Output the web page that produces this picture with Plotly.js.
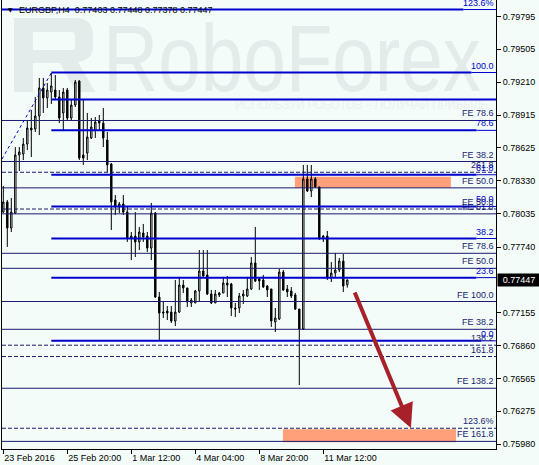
<!DOCTYPE html>
<html><head><meta charset="utf-8">
<script src="https://cdn.plot.ly/plotly-3.0.1.min.js"></script>
<style>
html,body{margin:0;padding:0;background:#F3FCF8;}
#wrap{position:relative;width:539px;height:465px;overflow:hidden;}
#wm{position:absolute;left:0;top:0;}
#chart{position:absolute;left:0;top:0;width:539px;height:465px;}
</style></head><body>
<div id="wrap">
<svg id="wm" width="539" height="465">
  <path d="M14,18 H76 Q93,18 93,36 V46 Q93,60 78,62 L95,92 H76 L60,63 H33 V92 H14 Z M33,32 H72 Q75,32 75,36 V46 Q75,50 72,50 H33 Z" fill="#E3EBEB" fill-rule="evenodd"/>
  <text x="103" y="91" font-family="Liberation Sans, Arial, sans-serif" font-size="94" fill="#E3EBEB" textLength="378" lengthAdjust="spacingAndGlyphs">RoboForex</text>
  <text x="235" y="109" font-family="Liberation Sans, Arial, sans-serif" font-size="12" fill="#EAF2F0" textLength="253" lengthAdjust="spacingAndGlyphs">ИСПОЛЬЗУЙ РОБОТОВ – ПОЛУЧАЙ ПРИБЫЛЬ</text>
</svg>
<div id="chart"></div>
</div>
<script>
// ---- data ----
const symbolTitle = "EURGBP,H4  0.77403 0.77448 0.77378 0.77447";
const timeLabels = ["23 Feb 2016","25 Feb 20:00","1 Mar 12:00","4 Mar 04:00","8 Mar 20:00","11 Mar 12:00"];
const timeLabelBars = [0,16,32,48,64,80];

const opens = [0.78052,0.78142,0.77910,0.78043,0.78561,0.78570,0.78659,0.78802,0.78793,0.78909,
 0.79159,0.79070,0.79123,0.79141,0.79079,0.78936,0.79141,0.78891,0.79007,0.79221,
 0.78561,0.78579,0.78713,0.78784,0.78864,0.78846,0.78695,0.78481,0.78160,0.78097,
 0.78124,0.78052,0.77820,0.77838,0.77785,0.77865,0.77838,0.77731,0.78043,0.77294,
 0.77160,0.77169,0.77160,0.77080,0.77160,0.77401,0.77375,0.77241,0.77241,0.77348,
 0.77526,0.77491,0.77321,0.77241,0.77312,0.77330,0.77419,0.77410,0.77196,0.77196,
 0.77303,0.77303,0.77366,0.77598,0.77455,0.77446,0.77392,0.77366,0.77071,0.77098,
 0.77517,0.77366,0.77348,0.77312,0.77187,0.77009,0.78347,0.78240,0.78347,0.78276,
 0.77820,0.77838,0.77464,0.77508,0.77535,0.77615,0.77403];
const highs = [0.78285,0.78160,0.78178,0.78632,0.78632,0.78713,0.78873,0.78963,0.79079,0.79248,
 0.79248,0.79203,0.79293,0.79275,0.79141,0.79159,0.79159,0.79052,0.79230,0.79230,
 0.79052,0.78936,0.78891,0.78900,0.78918,0.78980,0.78766,0.78490,0.78204,0.78142,
 0.78204,0.78097,0.77874,0.78052,0.77919,0.77946,0.77874,0.78133,0.78052,0.77339,
 0.77250,0.77214,0.77214,0.77446,0.77473,0.77446,0.77375,0.77285,0.77357,0.77713,
 0.77713,0.77713,0.77357,0.77357,0.77339,0.77473,0.77482,0.77419,0.77241,0.77330,
 0.77357,0.77473,0.77651,0.77919,0.77473,0.77491,0.77401,0.77366,0.77196,0.77544,
 0.77535,0.77401,0.77383,0.77330,0.77187,0.78472,0.78472,0.78472,0.78365,0.78276,
 0.77847,0.77883,0.77606,0.77687,0.77642,0.77678,0.77448];
const lows = [0.78043,0.77741,0.77874,0.78034,0.78418,0.78516,0.78606,0.78543,0.78766,0.78739,
 0.78936,0.78980,0.79016,0.79052,0.78846,0.78784,0.78873,0.78864,0.78989,0.78516,
 0.78472,0.78516,0.78704,0.78713,0.78784,0.78632,0.78409,0.77892,0.78026,0.78043,
 0.78026,0.77785,0.77624,0.77651,0.77713,0.77785,0.77696,0.77624,0.77285,0.76910,
 0.77107,0.77089,0.77062,0.77035,0.77151,0.77330,0.77205,0.77205,0.77241,0.77250,
 0.77473,0.77312,0.77232,0.77241,0.77294,0.77330,0.77294,0.77124,0.77116,0.77151,
 0.77232,0.77294,0.77357,0.77428,0.77357,0.77375,0.77294,0.77027,0.76982,0.77089,
 0.77348,0.77294,0.77285,0.77178,0.76509,0.77000,0.78231,0.78186,0.78267,0.77803,
 0.77785,0.77446,0.77428,0.77473,0.77517,0.77339,0.77378];
const closes = [0.78142,0.77910,0.78052,0.78561,0.78588,0.78659,0.78802,0.78784,0.78909,0.79159,
 0.79070,0.79141,0.79177,0.79079,0.78891,0.79123,0.78891,0.79007,0.79212,0.78534,
 0.78534,0.78722,0.78811,0.78855,0.78846,0.78713,0.78472,0.78142,0.78097,0.78124,
 0.78052,0.77820,0.77838,0.77785,0.77874,0.77829,0.77731,0.78043,0.77294,0.77151,
 0.77151,0.77151,0.77080,0.77160,0.77401,0.77375,0.77250,0.77267,0.77348,0.77526,
 0.77482,0.77321,0.77241,0.77321,0.77330,0.77419,0.77401,0.77196,0.77187,0.77303,
 0.77321,0.77366,0.77598,0.77437,0.77437,0.77383,0.77357,0.77080,0.77107,0.77517,
 0.77357,0.77339,0.77303,0.77187,0.77009,0.78347,0.78240,0.78347,0.78276,0.77820,
 0.77838,0.77464,0.77508,0.77535,0.77615,0.77392,0.77447];

const priceTicks = [0.79795,0.79505,0.79210,0.78915,0.78625,0.78330,0.78035,0.77740,0.77155,0.76860,0.76565,0.76275,0.75980];
const lastPrice = 0.77447;

const levelPrices = [0.79859,0.79297,0.79056,0.78869,0.78781,0.78503,0.78407,0.78385,0.78268,0.78102,0.78079,0.78036,
 0.77816,0.77684,0.77550,0.77467,0.77254,0.77006,0.76903,0.76864,0.76763,0.76480,0.76123,0.76006];
const levelLabels = ["123.6%","100.0","","FE 78.6","78.6","FE 38.2","261.8","61.8","FE 50.0","50.0","FE 50.0","FE 61.8",
 "38.2","FE 78.6","FE 50.0","23.6","FE 100.0","FE 38.2","0.0","138.2","161.8","FE 138.2","123.6%","FE 161.8"];
const levelKinds = ["retrFull","retr","retr","fe","retr","fe","dash","retr","fe","retr","dash","fe",
 "retr","fe","fe","retr","fe","fe","retr","dash","dash","fe","dash","fe"];
const fiboAnchorBar = 12;

const trendBars = [-0.33, 12];
const trendPrices = [0.78525, 0.79293];
const zoneBars = [[72.9,111.9],[69.9,113.2]];
const zonePrices = [[0.78367,0.78269],[0.76114,0.75998]];
const arrowBars = [87.7, 101.9];
const arrowPrices = [0.77348, 0.76125];

// ---- build ----
const W=539,H=465, M={l:2,r:43,t:0,b:16};
const xRange=[-0.325,123.175];
const yRange=[0.75938,0.79944];
const pxPerBar=(W-M.l-M.r)/(xRange[1]-xRange[0]);
const BLUE='#0000CD', NAVY='#1B1B70', FONT='Liberation Sans, Arial, sans-serif';
const bars=opens.map((_,i)=>i);

const ctx=document.createElement('canvas').getContext('2d');
ctx.font='9px "Liberation Sans"';

const traces=[{
  type:'candlestick', x:bars, open:opens, high:highs, low:lows, close:closes,
  increasing:{line:{color:'#000',width:1},fillcolor:'#FFFFFF'},
  decreasing:{line:{color:'#000',width:1},fillcolor:'#000000'},
  whiskerwidth:0, hoverinfo:'skip', showlegend:false
}];

const ann=[];
levelPrices.forEach((p,i)=>{
  const k=levelKinds[i], lbl=levelLabels[i];
  if(k==='retr'||k==='retrFull'){
    const x0 = k==='retr'?fiboAnchorBar:xRange[0];
    const w = lbl?(ctx.measureText(lbl).width+2)/pxPerBar:0;
    const xm = xRange[1]-w;
    traces.push({type:'scatter',mode:'lines',x:[x0,xm],y:[p,p],line:{color:BLUE,width:2},hoverinfo:'skip',showlegend:false});
    if(w) traces.push({type:'scatter',mode:'lines',x:[xm,xRange[1]],y:[p,p],line:{color:BLUE,width:1},hoverinfo:'skip',showlegend:false});
  } else {
    traces.push({type:'scatter',mode:'lines',x:[xRange[0],xRange[1]],y:[p,p],
      line:{color:NAVY,width:1,dash:k==='dash'?'4px,2px':'solid'},hoverinfo:'skip',showlegend:false});
  }
  if(lbl) ann.push({xref:'paper',x:1,xanchor:'right',yref:'y',y:p,yanchor:'bottom',showarrow:false,
    text:lbl,font:{family:FONT,size:9,color:(k==='retr'||k==='retrFull')?BLUE:NAVY},borderpad:1});
});
traces.push({type:'scatter',mode:'lines',x:trendBars,y:trendPrices,line:{color:BLUE,width:1,dash:'dot'},hoverinfo:'skip',showlegend:false});

const shapes=zoneBars.map((b,i)=>({type:'rect',xref:'x',yref:'y',x0:b[0],x1:b[1],y0:zonePrices[i][0],y1:zonePrices[i][1],
  fillcolor:'#FFA07A',line:{width:0},layer:'below'}));

ann.push({xref:'x',yref:'y',x:arrowBars[1],y:arrowPrices[1],axref:'x',ayref:'y',ax:arrowBars[0],ay:arrowPrices[0],
  text:'',showarrow:true,arrowhead:2,arrowwidth:4,arrowsize:1.2,arrowcolor:'#A8202A',standoff:0});
ann.push({xref:'paper',yref:'paper',x:0,y:1,xanchor:'left',yanchor:'top',xshift:4,yshift:-4,showarrow:false,
  text:'▼',font:{family:'DejaVu Sans',size:6,color:'#000'}});
ann.push({xref:'paper',yref:'paper',x:0,y:1,xanchor:'left',yanchor:'top',xshift:15,yshift:-3,showarrow:false,
  text:symbolTitle,font:{family:FONT,size:9,color:'#000'}});
ann.push({xref:'paper',x:1,xanchor:'left',xshift:1,yref:'y',y:lastPrice,yanchor:'middle',showarrow:false,
  text:lastPrice.toFixed(5),font:{family:FONT,size:9,color:'#fff'},bgcolor:'#000',width:40,height:10,borderpad:1});

const layout={
  width:W,height:H,margin:M,paper_bgcolor:'rgba(0,0,0,0)',plot_bgcolor:'rgba(0,0,0,0)',
  showlegend:false,boxgap:0.5,
  xaxis:{range:xRange,tickvals:timeLabelBars,ticktext:timeLabels,ticks:'outside',ticklen:4,tickcolor:'#000',
    showline:true,linecolor:'#000',linewidth:1,showgrid:false,zeroline:false,ticklabelposition:'outside right',
    tickfont:{family:FONT,size:9,color:'#000'},rangeslider:{visible:false},fixedrange:true},
  yaxis:{range:yRange,side:'right',tickvals:priceTicks,ticktext:priceTicks.map(v=>v.toFixed(5)),ticks:'outside',ticklen:4,
    tickcolor:'#000',showline:true,mirror:true,linecolor:'#000',linewidth:1,showgrid:false,zeroline:false,
    tickfont:{family:FONT,size:9,color:'#000'},fixedrange:true},
  shapes:shapes,annotations:ann
};
Plotly.newPlot('chart',traces,layout,{staticPlot:true,displayModeBar:false});
</script>
</body></html>
